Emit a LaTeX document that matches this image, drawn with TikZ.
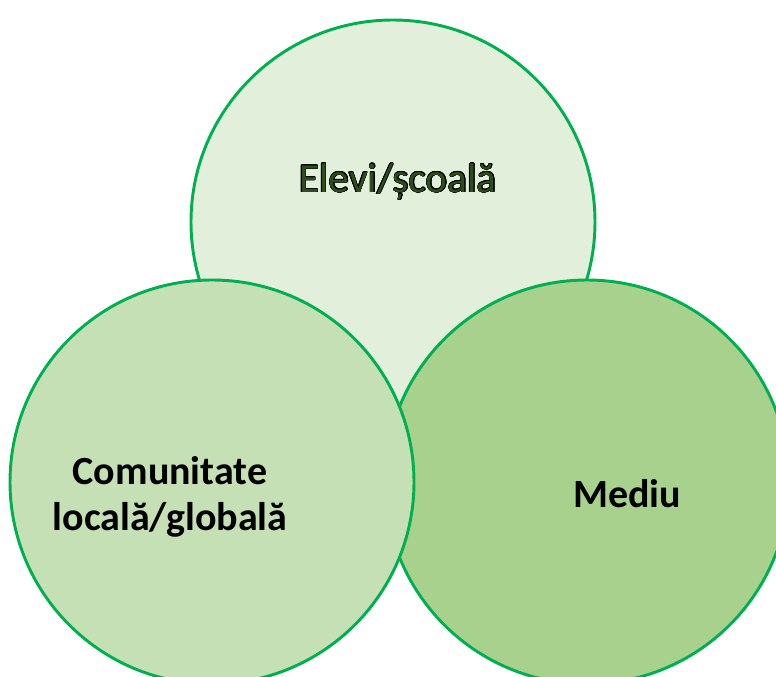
\documentclass[tikz,border=0pt]{standalone}
\usepackage{fontspec}
\setmainfont{Carlito}
\usepackage{contour}
\contourlength{0.45pt}
\definecolor{ring}{HTML}{00B050}
\definecolor{fillA}{HTML}{E2EFDA}
\definecolor{fillB}{HTML}{C5E0B4}
\definecolor{fillC}{HTML}{A9D18E}
\definecolor{txtgreen}{HTML}{2E4D1C}
\begin{document}
\begin{tikzpicture}[x=0.75pt,y=-0.75pt,
  bubble/.style={circle,draw=ring,line width=2.2pt,minimum size=404*0.75pt,inner sep=0pt},
  lbl/.style={font=\fontsize{30}{35}\selectfont\bfseries,align=center,text=black}]
\useasboundingbox (0,0) rectangle (776,677);
\begin{scope}
\clip (0,0) rectangle (776,677);
\node[bubble,fill=fillA] (top) at (393,222) {};
\node[bubble,fill=fillC] (right) at (587,482) {};
\node[bubble,fill=fillB] (left) at (212,482) {};
\end{scope}
\node[font=\fontsize{31}{36}\selectfont] (t1) at (398,182) {\contour{black}{\textcolor{txtgreen}{Elevi/școală}}};
\node[lbl] (t2) at (170,497) {Comunitate\\locală/globală};
\node[lbl] (t3) at (627,494) {Mediu};
\end{tikzpicture}
\end{document}
